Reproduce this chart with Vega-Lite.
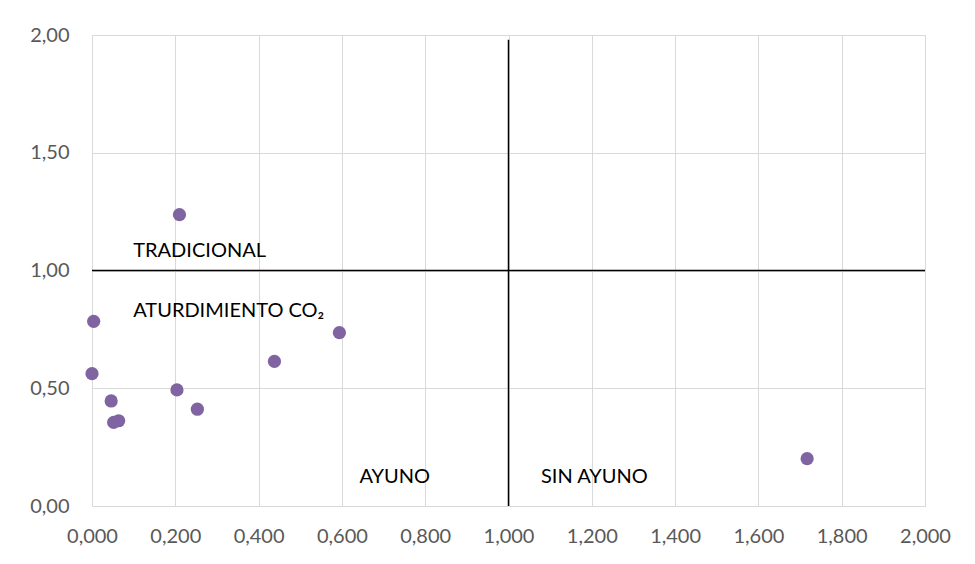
{
  "$schema": "https://vega.github.io/schema/vega-lite/v6.json",
  "autosize": "none",
  "width": 833,
  "height": 471,
  "padding": {"left": 92, "top": 35, "right": 50, "bottom": 58},
  "background": "white",
  "config": {
    "view": {"stroke": "#d9d9d9", "strokeWidth": 1},
    "font": "Lato"
  },
  "datasets": {
    "points": [
      {"x": 0.210, "y": 1.237},
      {"x": 0.004, "y": 0.784},
      {"x": 0.594, "y": 0.736},
      {"x": 0.438, "y": 0.614},
      {"x": 0.000, "y": 0.562},
      {"x": 0.204, "y": 0.493},
      {"x": 0.046, "y": 0.446},
      {"x": 0.253, "y": 0.411},
      {"x": 0.052, "y": 0.355},
      {"x": 0.064, "y": 0.362},
      {"x": 1.717, "y": 0.201}
    ],
    "rules": [
      {"x": 0, "x2": 2, "y": 1, "y2": 1},
      {"x": 1, "x2": 1, "y": 0, "y2": 1.98}
    ],
    "labels": [
      {"x": 0.099, "y": 1.059, "label": "TRADICIONAL"},
      {"x": 0.099, "y": 0.804, "label": "ATURDIMIENTO CO₂"},
      {"x": 0.642, "y": 0.096, "label": "AYUNO"},
      {"x": 1.078, "y": 0.096, "label": "SIN AYUNO"}
    ]
  },
  "layer": [
    {
      "data": {"name": "points"},
      "mark": {"type": "point", "filled": true, "shape": "circle", "size": 175, "color": "#8064A2", "opacity": 1},
      "encoding": {
        "x": {
          "field": "x", "type": "quantitative",
          "scale": {"domain": [0, 2], "nice": false},
          "axis": {
            "title": null,
            "values": [0, 0.2, 0.4, 0.6, 0.8, 1.0, 1.2, 1.4, 1.6, 1.8, 2.0],
            "labelExpr": "replace(format(datum.value, '.3f'), '.', ',')",
            "grid": true, "gridColor": "#d9d9d9",
            "domainColor": "#d9d9d9", "domainWidth": 1,
            "ticks": false, "labelPadding": 20, "labelFlush": false,
            "labelFontSize": 20, "labelColor": "#595959", "labelFont": "Lato"
          }
        },
        "y": {
          "field": "y", "type": "quantitative",
          "scale": {"domain": [0, 2], "nice": false},
          "axis": {
            "title": null,
            "values": [0, 0.5, 1.0, 1.5, 2.0],
            "labelExpr": "replace(format(datum.value, '.2f'), '.', ',')",
            "grid": true, "gridColor": "#d9d9d9",
            "domain": false,
            "ticks": false, "labelPadding": 23, "labelFlush": false,
            "labelFontSize": 20, "labelColor": "#595959", "labelFont": "Lato"
          }
        }
      }
    },
    {
      "data": {"name": "rules"},
      "mark": {"type": "rule", "color": "black", "strokeWidth": 1.5},
      "encoding": {
        "x": {"field": "x", "type": "quantitative"},
        "x2": {"field": "x2"},
        "y": {"field": "y", "type": "quantitative"},
        "y2": {"field": "y2"}
      }
    },
    {
      "data": {"name": "labels"},
      "mark": {"type": "text", "align": "left", "baseline": "alphabetic", "fontSize": 20, "color": "black", "font": "Lato"},
      "encoding": {
        "x": {"field": "x", "type": "quantitative"},
        "y": {"field": "y", "type": "quantitative"},
        "text": {"field": "label"}
      }
    }
  ]
}
